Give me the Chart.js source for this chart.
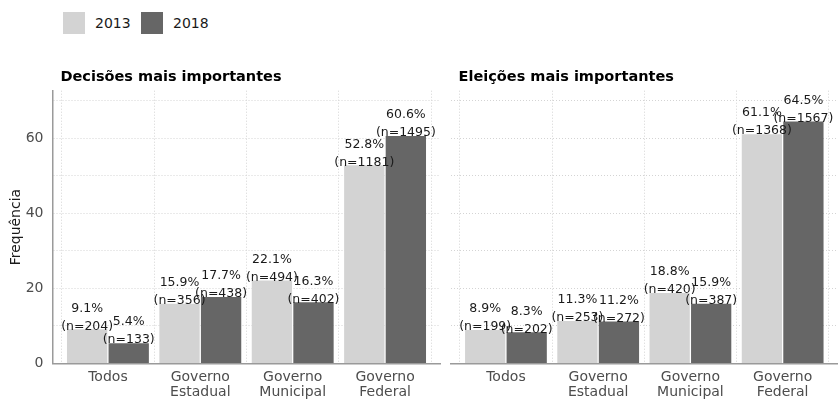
<!DOCTYPE html>
<html>
<head>
<meta charset="utf-8">
<title>Decisões e eleições mais importantes</title>
<script src="https://cdn.jsdelivr.net/npm/chart.js@4.4.0/dist/chart.umd.min.js"></script>
<style>
  html, body { margin: 0; padding: 0; background: #fff; }
  #wrap { position: relative; width: 838px; height: 400px; overflow: hidden; font-family: "DejaVu Sans", sans-serif; }
  canvas { position: absolute; top: 0; }
  #left { left: 0; }
  #right { left: 446px; }
  .key { position: absolute; top: 12px; width: 22px; height: 22px; }
  .key-label { position: absolute; top: 14px; font-size: 14px; line-height: 18px; color: #1a1a1a; }
</style>
</head>
<body>
<div id="wrap">
  <div class="key" id="key0" style="left:63px"></div>
  <div class="key-label" id="lab0" style="left:95px"></div>
  <div class="key" id="key1" style="left:141px"></div>
  <div class="key-label" id="lab1" style="left:173px"></div>
  <canvas id="left" width="446" height="400"></canvas>
  <canvas id="right" width="392" height="400"></canvas>
</div>
<script>
// categories and series
const categories = ['Todos', 'Governo Estadual', 'Governo Municipal', 'Governo Federal'];
const years = ['2013', '2018'];
const yearColors = ['#d3d3d3', '#666666'];

const decisoesPct2013 = [9.1, 15.9, 22.1, 52.8];
const decisoesN2013 = [204, 356, 494, 1181];
const decisoesPct2018 = [5.4, 17.7, 16.3, 60.6];
const decisoesN2018 = [133, 438, 402, 1495];

const eleicoesPct2013 = [8.9, 11.3, 18.8, 61.1];
const eleicoesN2013 = [199, 253, 420, 1368];
const eleicoesPct2018 = [8.3, 11.2, 15.9, 64.5];
const eleicoesN2018 = [202, 272, 387, 1567];

const yTicks = [0, 10, 20, 30, 40, 50, 60, 70];
const yLabelTicks = [0, 20, 40, 60];
const yMax = 72.7;

Chart.defaults.font.family = '"DejaVu Sans", sans-serif';
Chart.defaults.animation = false;

// html legend
years.forEach((y, i) => {
    document.getElementById('key' + i).style.background = yearColors[i];
    document.getElementById('lab' + i).textContent = y;
});

// percent + n above each bar
const barLabels = {
    id: 'barLabels',
    afterDatasetsDraw(chart) {
        const ctx = chart.ctx;
        ctx.save();
        ctx.font = '12.5px "DejaVu Sans"';
        ctx.fillStyle = '#1a1a1a';
        ctx.textAlign = 'center';
        ctx.textBaseline = 'middle';
        chart.data.datasets.forEach((ds, di) => {
            chart.getDatasetMeta(di).data.forEach((bar, i) => {
                ctx.fillText(ds.pct[i].toFixed(1) + '%', bar.x, bar.y - 21);
                ctx.fillText('(n=' + ds.n[i] + ')', bar.x, bar.y - 3);
            });
        });
        ctx.restore();
    }
};

// facet strip title, left aligned on the panel
const panelTitle = {
    id: 'panelTitle',
    afterDraw(chart, args, opts) {
        const ctx = chart.ctx;
        ctx.save();
        ctx.font = 'bold 14.5px "DejaVu Sans"';
        ctx.fillStyle = '#000';
        ctx.textAlign = 'left';
        ctx.textBaseline = 'middle';
        ctx.fillText(opts.text, chart.chartArea.left + 8, 77);
        ctx.restore();
    }
};

const gridStyle = { color: '#d4d4d4', lineWidth: 1, drawTicks: false };

function makePanel(id, title, pcts, ns, showAxis, axisWidth, padRight) {
    const datasets = years.map((y, k) => ({
        label: y,
        data: pcts[k].map((v, i) => ({ x: i, y: v })),
        pct: pcts[k],
        n: ns[k],
        backgroundColor: yearColors[k],
        borderWidth: 0,
        barPercentage: 0.97,
        categoryPercentage: 0.9
    }));

    return new Chart(document.getElementById(id), {
        type: 'bar',
        data: { datasets: datasets },
        options: {
            responsive: false,
            maintainAspectRatio: false,
            layout: { padding: { top: 90.7, right: padRight, bottom: 0, left: 0 } },
            plugins: {
                legend: { display: false },
                tooltip: { enabled: false },
                panelTitle: { text: title }
            },
            scales: {
                x: {
                    type: 'linear',
                    offset: false,
                    min: -0.6,
                    max: 3.6,
                    afterBuildTicks: s => { s.ticks = categories.map((c, i) => ({ value: i })); },
                    afterFit: s => { s.height = 36.5; },
                    grid: gridStyle,
                    border: { display: true, color: '#9a9a9a', width: 1.5, dash: [1, 2] },
                    ticks: {
                        callback: v => categories[v].split(' '),
                        color: '#4d4d4d',
                        font: { size: 14, lineHeight: 1.05 },
                        padding: 7,
                        autoSkip: false,
                        maxRotation: 0
                    }
                },
                y: {
                    min: 0,
                    max: yMax,
                    afterBuildTicks: s => { s.ticks = yTicks.map(v => ({ value: v })); },
                    afterFit: s => { s.width = axisWidth; },
                    grid: gridStyle,
                    border: { display: showAxis, color: '#9a9a9a', width: 1.5, dash: [1, 2] },
                    ticks: {
                        display: showAxis,
                        callback: v => yLabelTicks.includes(v) ? v : '',
                        color: '#4d4d4d',
                        font: { size: 14 },
                        padding: 9
                    },
                    title: {
                        display: showAxis,
                        text: 'Frequência',
                        color: '#1a1a1a',
                        font: { size: 14 },
                        padding: { top: 8, bottom: 0 }
                    }
                }
            }
        },
        plugins: [barLabels, panelTitle]
    });
}

makePanel('left', 'Decisões mais importantes',
    [decisoesPct2013, decisoesPct2018], [decisoesN2013, decisoesN2018], true, 52.5, 5.5);
makePanel('right', 'Eleições mais importantes',
    [eleicoesPct2013, eleicoesPct2018], [eleicoesN2013, eleicoesN2018], false, 4.6, 0);
</script>
</body>
</html>
